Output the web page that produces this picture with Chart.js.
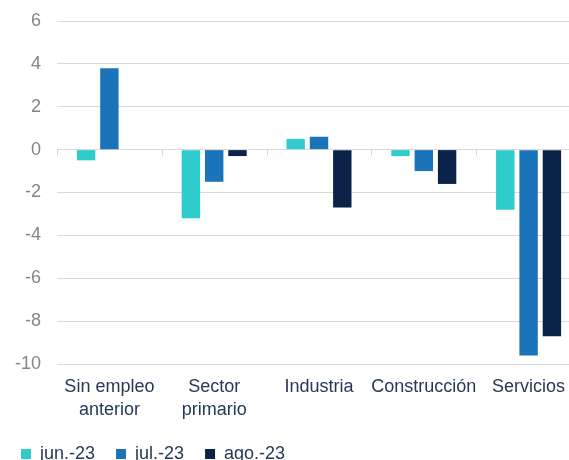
<!DOCTYPE html>
<html>
<head>
<meta charset="utf-8">
<script src="https://cdn.jsdelivr.net/npm/chart.js@4"></script>
<style>
    html, body { margin: 0; padding: 0; background: #fff; overflow: hidden; }
    #wrap { width: 569px; height: 460px; overflow: hidden; }
    canvas { display: block; }
</style>
</head>
<body>
<div id="wrap"><canvas id="chart" width="584" height="460"></canvas></div>
<script>
// Data
const categories = [['Sin empleo', 'anterior'], ['Sector', 'primario'], 'Industria', 'Construcción', 'Servicios'];
const seriesNames = ['jun.-23', 'jul.-23', 'ago.-23'];
const junValues = [-0.5, -3.2, 0.5, -0.3, -2.8];
const julValues = [3.8, -1.5, 0.6, -1.0, -9.6];
const agoValues = [0.0, -0.3, -2.7, -1.6, -8.7];
const yTicks = [6, 4, 2, 0, -2, -4, -6, -8, -10];

const colors = ['#2ECCCC', '#1B73B9', '#0B2249'];
const gridColor = '#D9D9D9';

// Small tick marks along the zero line at the category boundaries
const zeroTicks = {
    id: 'zeroTicks',
    afterDatasetsDraw(chart) {
        const x = chart.scales.x;
        const y = chart.scales.y;
        const ctx = chart.ctx;
        const y0 = y.getPixelForValue(0);
        const step = x.getPixelForValue(1) - x.getPixelForValue(0);
        ctx.save();
        ctx.strokeStyle = gridColor;
        ctx.lineWidth = 1;
        for (let i = 0; i < categories.length; i++) {
            const px = Math.round(x.getPixelForValue(i) - step / 2) + 0.5;
            ctx.beginPath();
            ctx.moveTo(px, y0);
            ctx.lineTo(px, y0 + 6);
            ctx.stroke();
        }
        ctx.restore();
    }
};

Chart.defaults.font.family = '"Liberation Sans", Arial, sans-serif';
Chart.defaults.font.size = 18;

const ctx = document.getElementById('chart').getContext('2d');
new Chart(ctx, {
    type: 'bar',
    data: {
        labels: categories,
        datasets: [junValues, julValues, agoValues].map((vals, i) => ({
            label: seriesNames[i],
            data: vals,
            backgroundColor: colors[i],
            borderWidth: 0,
            categoryPercentage: 0.667,
            barPercentage: 0.79
        }))
    },
    options: {
        responsive: false,
        animation: false,
        layout: { padding: { top: 21, right: 3, left: 0, bottom: 0 } },
        scales: {
            x: {
                grid: { display: false, drawTicks: false },
                border: { display: false },
                ticks: { color: '#263858', padding: 12, maxRotation: 0, autoSkip: false, font: { size: 18, lineHeight: 1.25 } },
                afterFit(scale) { scale.height = 60; }
            },
            y: {
                min: -10,
                max: 6,
                afterBuildTicks(scale) { scale.ticks = yTicks.map(v => ({ value: v })); },
                grid: { color: gridColor, drawTicks: false, lineWidth: 1 },
                border: { display: false },
                ticks: { color: '#858585', padding: 16, font: { size: 18 } },
                afterFit(scale) {
                    scale.width = 57;
                    scale.paddingTop = 0;
                    scale.paddingBottom = 0;
                }
            }
        },
        plugins: {
            legend: {
                position: 'bottom',
                align: 'start',
                maxHeight: 36,
                labels: {
                    boxWidth: 10,
                    boxHeight: 10,
                    padding: 21,
                    color: '#263858',
                    font: { size: 18 }
                }
            },
            tooltip: { enabled: false }
        }
    },
    plugins: [zeroTicks]
});
</script>
</body>
</html>
